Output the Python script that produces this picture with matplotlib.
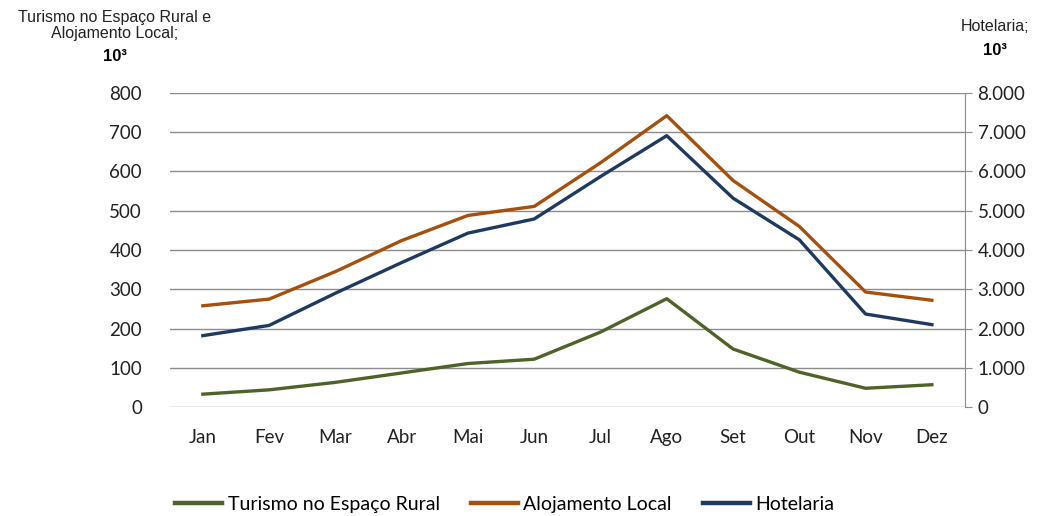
import matplotlib.pyplot as plt
from matplotlib.ticker import FuncFormatter

plt.rcParams['font.family'] = ['Lato', 'DejaVu Sans']

months = ['Jan', 'Fev', 'Mar', 'Abr', 'Mai', 'Jun', 'Jul', 'Ago', 'Set', 'Out', 'Nov', 'Dez']
turismo_rural = [33, 44, 63, 87, 111, 122, 191, 276, 148, 89, 48, 57]
alojamento_local = [258, 275, 345, 424, 488, 511, 622, 742, 577, 460, 293, 272]
hotelaria = [1820, 2080, 2900, 3680, 4430, 4790, 5870, 6910, 5320, 4260, 2370, 2100]

c_green = '#4F6228'
c_orange = '#A5500E'
c_blue = '#1F3A60'
grid_c = '#8C8C8C'

fig = plt.figure(figsize=(10.41, 5.16), dpi=100)
ax = fig.add_axes([0.163, 0.211, 0.764, 0.609])
ax2 = ax.twinx()

x = range(len(months))
l1, = ax.plot(x, turismo_rural, color=c_green, lw=2.4, label='Turismo no Espaço Rural')
l2, = ax.plot(x, alojamento_local, color=c_orange, lw=2.4, label='Alojamento Local')
l3, = ax2.plot(x, hotelaria, color=c_blue, lw=2.4, label='Hotelaria')

ax.set_xlim(-0.5, 11.5)
ax.set_ylim(0, 800)
ax.set_yticks(range(0, 801, 100))
ax2.set_ylim(0, 8000)
ax2.set_yticks(range(0, 8001, 1000))
ax2.yaxis.set_major_formatter(FuncFormatter(lambda v, p: '0' if v == 0 else f'{int(v):,}'.replace(',', '.')))

ax.set_xticks(list(x))
ax.set_xticklabels(months)
ax.grid(axis='y', color=grid_c, lw=1)
ax.set_axisbelow(True)

for a in (ax, ax2):
    for s in ('top', 'left', 'bottom'):
        a.spines[s].set_visible(False)
ax.spines['right'].set_visible(False)
ax2.spines['right'].set_color(grid_c)

ax.tick_params(axis='y', length=0, labelsize=13.5, pad=20, colors='#222222')
ax.tick_params(axis='x', length=0, labelsize=13.5, pad=16, colors='#222222')
ax2.tick_params(axis='y', length=5, color=grid_c, labelsize=13.5, pad=4, labelcolor='#222222')

title_font = ['Liberation Sans', 'DejaVu Sans']
fig.text(0.110, 0.951, 'Turismo no Espaço Rural e\nAlojamento Local;', ha='center', va='center',
         fontsize=11.5, color='#222222', linespacing=1.05, family=title_font)
fig.text(0.110, 0.891, '10³', ha='center', va='center', fontsize=12, fontweight='bold', family=title_font)
fig.text(0.956, 0.948, 'Hotelaria;', ha='center', va='center', fontsize=11.5, color='#222222', family=title_font)
fig.text(0.956, 0.903, '10³', ha='center', va='center', fontsize=12, fontweight='bold', family=title_font)

leg = fig.legend(handles=[l1, l2, l3], loc='center', bbox_to_anchor=(0.485, 0.022), ncol=3,
                 frameon=False, fontsize=14, handlelength=2.4, columnspacing=1.6, handletextpad=0.3)
for h in leg.legend_handles:
    h.set_linewidth(3.2)

fig.savefig('out.png', dpi=100)
